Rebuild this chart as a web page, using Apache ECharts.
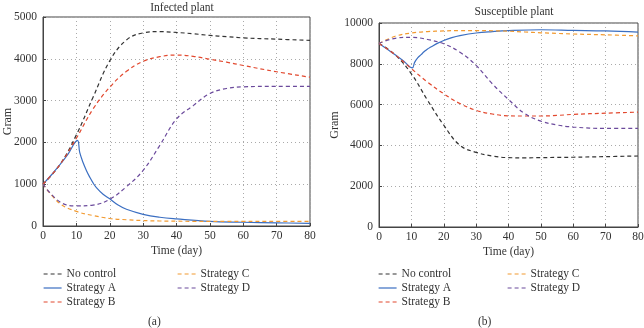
<!DOCTYPE html>
<html>
<head>
<meta charset="utf-8">
<script src="https://cdn.jsdelivr.net/npm/echarts@6/dist/echarts.min.js"></script>
<style>
  html, body { margin: 0; padding: 0; background: #fff; }
  #chart { width: 644px; height: 328px; }
</style>
</head>
<body>
<div id="chart"></div>
<script>
// shared time points (day)
const days = [0, 5, 10, 15, 20, 25, 30, 35, 40, 45, 50, 55, 60, 70, 80];
// strategy A has a kink near day 10, so it gets its own time points
const daysA = [0, 2.5, 5, 7.5, 10.3, 11, 12, 13, 14, 15, 16, 18, 20, 22.5, 25, 30, 35, 40, 50, 60, 70, 80];

// (a) infected plant
const noControlI = [1000, 1460, 2180, 3080, 3950, 4450, 4620, 4650, 4630, 4600, 4560, 4530, 4500, 4470, 4440];
const stratAI = [1000, 1220, 1460, 1720, 2050, 1760, 1520, 1330, 1170, 1030, 920, 760, 650, 500, 400, 280, 210, 170, 110, 90, 75, 65];
const stratBI = [1000, 1460, 2100, 2800, 3320, 3700, 3940, 4050, 4090, 4060, 3990, 3920, 3840, 3690, 3560];
const stratCI = [1000, 540, 350, 250, 180, 150, 130, 120, 115, 112, 110, 110, 110, 110, 110];
const stratDI = [1000, 580, 480, 500, 640, 940, 1330, 1930, 2560, 2880, 3170, 3290, 3330, 3340, 3340];

// (b) susceptible plant
const noControlS = [9000, 8440, 7510, 6210, 4990, 4000, 3660, 3480, 3400, 3390, 3400, 3410, 3420, 3450, 3480];
const stratAS = [9000, 8720, 8440, 8150, 7800, 8070, 8300, 8450, 8600, 8730, 8820, 9000, 9140, 9280, 9380, 9510, 9580, 9630, 9670, 9640, 9610, 9550];
const stratBS = [9000, 8440, 7760, 7100, 6530, 6050, 5720, 5540, 5450, 5440, 5440, 5470, 5520, 5580, 5630];
const stratCS = [9000, 9350, 9510, 9580, 9610, 9630, 9630, 9620, 9600, 9560, 9520, 9490, 9460, 9420, 9370];
const stratDS = [9000, 9250, 9300, 9190, 8980, 8570, 7920, 7020, 6250, 5560, 5190, 5000, 4900, 4830, 4830];

const names = ["No control", "Strategy A", "Strategy B", "Strategy C", "Strategy D"];
const colors = ["#333333", "#3b6fc2", "#e2482e", "#f29a30", "#6b4a9c"];
const dashed = [true, false, true, true, true];

const font = "Liberation Serif";
const textColor = "#333";

function pairs(xs, ys) {
  return xs.map((x, i) => [x, ys[i]]);
}

function makeSeries(gridIdx, sets) {
  return sets.map((s, i) => ({
    name: names[i],
    type: "line",
    xAxisIndex: gridIdx,
    yAxisIndex: gridIdx,
    data: pairs(s[0], s[1]),
    showSymbol: false,
    symbol: "none",
    smooth: 0.4,
    lineStyle: {
      color: colors[i],
      width: 1.2,
      type: dashed[i] ? [4, 3] : "solid",
    },
    itemStyle: { color: colors[i] },
  }));
}

function xAxis(gridIdx) {
  return {
    type: "value",
    gridIndex: gridIdx,
    min: 0,
    max: 80,
    interval: 10,
    name: "Time (day)",
    nameLocation: "middle",
    nameGap: 19,
    nameMoveOverlap: false,
    nameTextStyle: { fontFamily: font, fontSize: 11.5, color: textColor },
    axisLine: { lineStyle: { color: "#444" } },
    axisTick: { inside: true, length: 3, lineStyle: { color: "#444" } },
    axisLabel: { fontFamily: font, fontSize: 11.5, color: textColor, margin: 4 },
    splitLine: { show: true, lineStyle: { color: "#aaa", type: [1, 3] } },
  };
}

function yAxis(gridIdx, max, interval, gap) {
  return {
    type: "value",
    gridIndex: gridIdx,
    min: 0,
    max: max,
    interval: interval,
    name: "Gram",
    nameLocation: "middle",
    nameGap: gap,
    nameMoveOverlap: false,
    nameTextStyle: { fontFamily: font, fontSize: 12, color: textColor },
    axisLine: { show: true, lineStyle: { color: "#444" } },
    axisTick: { inside: true, length: 3, lineStyle: { color: "#444" } },
    axisLabel: {
      fontFamily: font,
      fontSize: 11.5,
      color: textColor,
      margin: 6,
      formatter: (v) => String(v),
    },
    splitLine: { show: true, lineStyle: { color: "#aaa", type: [1, 3] } },
  };
}

function legend(left, top, data) {
  return {
    left: left,
    top: top,
    orient: "vertical",
    data: data,
    itemWidth: 18,
    itemHeight: 12,
    itemGap: 2,
    padding: 0,
    itemStyle: { opacity: 0 },
    lineStyle: { width: 1.2 },
    textStyle: { fontFamily: font, fontSize: 11.5, color: textColor },
  };
}

const chart = echarts.init(document.getElementById("chart"));
chart.setOption({
  animation: false,
  title: [
    {
      text: "Infected plant",
      left: 177,
      top: -3,
      textAlign: "center",
      textStyle: { fontFamily: font, fontSize: 11.5, fontWeight: "normal", color: textColor },
    },
    {
      text: "Susceptible plant",
      left: 509,
      top: 1,
      textAlign: "center",
      textStyle: { fontFamily: font, fontSize: 11.5, fontWeight: "normal", color: textColor },
    },
  ],
  grid: [
    { left: 43, right: 334, top: 17, bottom: 102, show: true, borderColor: "#444", borderWidth: 1, outerBoundsMode: "none" },
    { left: 379, right: 6, top: 23, bottom: 101, show: true, borderColor: "#444", borderWidth: 1, outerBoundsMode: "none" },
  ],
  xAxis: [xAxis(0), xAxis(1)],
  yAxis: [yAxis(0, 5000, 1000, 29), yAxis(1, 10000, 2000, 38)],
  legend: [
    legend(43, 268, names.slice(0, 3)),
    legend(177, 268, names.slice(3)),
    legend(378, 268, names.slice(0, 3)),
    legend(507, 268, names.slice(3)),
  ],
  graphic: [
    { type: "text", left: 148, top: 316, style: { text: "(a)", font: "11.5px " + font, fill: textColor } },
    { type: "text", left: 478, top: 316, style: { text: "(b)", font: "11.5px " + font, fill: textColor } },
  ],
  series: [
    ...makeSeries(0, [
      [days, noControlI],
      [daysA, stratAI],
      [days, stratBI],
      [days, stratCI],
      [days, stratDI],
    ]),
    ...makeSeries(1, [
      [days, noControlS],
      [daysA, stratAS],
      [days, stratBS],
      [days, stratCS],
      [days, stratDS],
    ]),
  ],
});
</script>
</body>
</html>
